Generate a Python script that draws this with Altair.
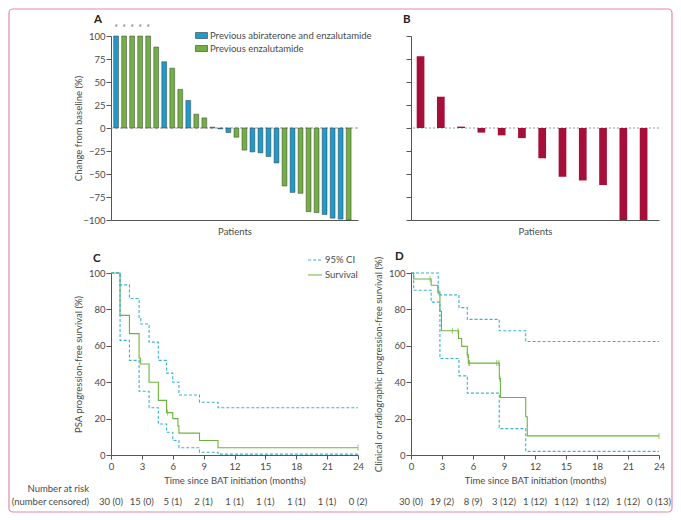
import altair as alt
import pandas as pd

FONT = "Lato"
TXT = "#4a4a4a"
AXC = "#555555"
BLUE = "#1e9bcb"
GREEN = "#72b043"
CRIMSON = "#a50f3a"
CYAN = "#3ab2cf"
KMGREEN = "#6cb33f"
PINK = "#e58aa8"

# ---------------- Panel A : waterfall ----------------
a_values = [100, 100, 100, 100, 100, 88, 72, 65, 42, 30, 15, 11, 1, -1, -5, -10,
            -24, -26, -27, -31, -38, -63, -70, -71, -91, -92, -94, -98, -99, -100]
a_groups = ["AE", "E", "E", "E", "E", "E", "AE", "E", "E", "AE", "E", "E", "E", "AE", "AE", "E",
            "E", "AE", "AE", "AE", "AE", "E", "AE", "E", "E", "E", "AE", "AE", "AE", "E"]
a_stars = ["*", "*", "*", "*", "*"] + [""] * 25
group_names = {"AE": "Previous abiraterone and enzalutamide", "E": "Previous enzalutamide"}
y_ticks_ab = [100, 75, 50, 25, 0, -25, -50, -75, -100]

# ---------------- Panel B : waterfall ----------------
b_values = [78, 34, 1.5, -5, -8, -11, -33, -53, -57, -62, -100, -100]

# ---------------- Panel C : PSA PFS ----------------
c_surv_t = [0, 0.88, 1.79, 2.73, 2.85, 3.7, 4.6, 5.4, 6.0, 6.5, 6.6, 8.6, 10.4, 24]
c_surv_v = [100, 76.7, 66.7, 53.3, 50, 40, 30, 23.3, 20, 16, 12, 8, 4, 4]
c_up_t = [0, 0.88, 1.79, 2.73, 2.9, 3.7, 4.6, 5.4, 6.0, 6.6, 8.6, 10.4, 24]
c_up_v = [100, 93.5, 86, 75, 72, 62, 52, 45, 40, 33, 29, 26, 26]
c_lo_t = [0, 0.88, 1.79, 2.73, 3.7, 4.6, 5.4, 6.0, 6.6, 8.6, 10.4, 24]
c_lo_v = [100, 63, 52, 35, 26, 17, 12.5, 8, 4, 1.5, 0.5, 0.5]
c_cens_t = [5.5, 24]
c_cens_v = [23.3, 4]

# ---------------- Panel D : clinical / radiographic PFS ----------------
d_surv_t = [0, 0.26, 1.95, 2.6, 2.8, 2.95, 4.6, 4.9, 5.45, 5.55, 8.55, 8.65, 11.1, 11.25, 24]
d_surv_v = [100, 96.7, 93.3, 89.6, 79, 68.3, 64, 59.7, 55, 50.5, 42, 31.6, 21, 10.5, 10.5]
d_up_t = [0, 2.63, 4.64, 5.45, 8.54, 11.1, 24]
d_up_v = [100, 88, 81, 74.5, 68.3, 62.4, 62.4]
d_lo_t = [0, 0.26, 1.95, 2.8, 4.64, 5.45, 8.54, 11.1, 24]
d_lo_v = [100, 90.5, 84, 53, 43.5, 34, 14.5, 2, 2]
d_cens_t = [1.85, 2.7, 4.0, 4.55, 5.45, 5.6, 5.65, 8.3, 8.5, 8.6, 24]
d_cens_v = [96.7, 89.6, 68.3, 68.3, 55, 50.5, 50.5, 50.5, 50.5, 42, 10.5]

risk_months = [0, 3, 6, 9, 12, 15, 18, 21, 24]
c_risk = ["30 (0)", "15 (0)", "5 (1)", "2 (1)", "1 (1)", "1 (1)", "1 (1)", "1 (1)", "0 (2)"]
d_risk = ["30 (0)", "19 (2)", "8 (9)", "3 (12)", "1 (12)", "1 (12)", "1 (12)", "1 (12)", "0 (13)"]
km_y_ticks = [0, 20, 40, 60, 80, 100]

W1, W2 = 247, 248
HA, HK = 184, 182


def letter(txt, dx, dy):
    return alt.Chart(pd.DataFrame({"l": [txt]})).mark_text(
        fontWeight="bold", fontSize=11.5, align="left", baseline="alphabetic", color="#222"
    ).encode(text="l:N", x=alt.value(dx), y=alt.value(dy))


def zero_rule(color, dash, yenc):
    return alt.Chart(pd.DataFrame({"change": [0]})).mark_rule(
        color=color, strokeDash=dash, strokeWidth=0.9
    ).encode(y=yenc)


# ---------- Panel A chart ----------
dfA = pd.DataFrame({
    "patient": list(range(1, len(a_values) + 1)),
    "change": a_values,
    "group": [group_names[g] for g in a_groups],
    "star": a_stars,
})
xA = alt.X("patient:O", scale=alt.Scale(paddingInner=0.4, paddingOuter=0.6, align=0.28),
           axis=alt.Axis(title="Patients", labels=False, ticks=False, titleY=11,
                         titleBaseline="middle"))
yA = alt.Y("change:Q", scale=alt.Scale(domain=[-100, 100], nice=False),
           axis=alt.Axis(values=y_ticks_ab, title="Change from baseline (%)", tickSize=5,
                         labelPadding=1, titleX=-33, titleY=HA / 2, titleBaseline="middle",
                         labelOverlap=False, tickCount=9))
bars_a = alt.Chart(dfA).mark_bar(stroke="#3a3a3a", strokeWidth=0.5).encode(
    x=xA, y=yA,
    color=alt.Color("group:N",
                    scale=alt.Scale(domain=list(group_names.values()), range=[BLUE, GREEN]),
                    legend=alt.Legend(title=None, orient="none", legendX=84, legendY=-7,
                                      symbolType="M-1,-0.5H1V0.5H-1Z", symbolSize=144,
                                      symbolStrokeColor="#3a3a3a", symbolStrokeWidth=0.6,
                                      symbolOpacity=1, labelLimit=400,
                                      labelFontSize=9.5, labelColor=TXT, labelFont=FONT,
                                      rowPadding=2, labelOffset=2)),
)
stars = alt.Chart(dfA[dfA["star"] == "*"]).mark_text(
    fontSize=9, color="#777", baseline="alphabetic", dy=-5
).encode(x=xA, y=alt.datum(100), text="star:N")
border = alt.Chart(pd.DataFrame({"b": [0]})).mark_rect(
    filled=False, stroke=PINK, strokeWidth=1.2, cornerRadius=4
).encode(x=alt.value(-102), x2=alt.value(561), y=alt.value(-27), y2=alt.value(476))
panelA = alt.layer(border, zero_rule("#8a8a8a", [3, 2], yA), bars_a, stars,
                   letter("A", -17, -13.5)).properties(width=W1, height=HA)

# ---------- Panel B chart ----------
dfB = pd.DataFrame({"patient": list(range(1, len(b_values) + 1)), "change": b_values})
xB = alt.X("patient:O", scale=alt.Scale(paddingInner=0.62, paddingOuter=0.425, align=0.33),
           axis=alt.Axis(title="Patients", labels=False, ticks=False, titleY=11,
                         titleBaseline="middle"))
yB = alt.Y("change:Q", scale=alt.Scale(domain=[-100, 100], nice=False),
           axis=alt.Axis(values=y_ticks_ab, title=None, labels=False, tickSize=5, tickCount=9))
bars_b = alt.Chart(dfB).mark_bar(color=CRIMSON).encode(x=xB, y=yB)
panelB = alt.layer(zero_rule("#6f9a9c", [2, 2], yB), bars_b,
                   letter("B", -8, -13.5)).properties(width=W2, height=HA)


# ---------- KM panels ----------
def km_frame(st, sv, ut, uv, lt, lv):
    rows = []
    for t, v in zip(st, sv):
        rows.append(("Survival", "surv", t, v))
    for t, v in zip(ut, uv):
        rows.append(("95% CI", "upper", t, v))
    for t, v in zip(lt, lv):
        rows.append(("95% CI", "lower", t, v))
    return pd.DataFrame(rows, columns=["series", "curve", "t", "v"])


def km_layers(df, cens_t, cens_v, risk, ytitle, letter_xy, show_legend):
    xk = alt.X("t:Q", scale=alt.Scale(domain=[0, 24], nice=False),
               axis=alt.Axis(values=risk_months, title="Time since BAT initiation (months)",
                             tickSize=4, labelPadding=2, titleY=25, titleBaseline="middle",
                             labelOverlap=False, labelFlush=False, tickCount=9))
    yk = alt.Y("v:Q", scale=alt.Scale(domain=[0, 100], nice=False),
               axis=alt.Axis(values=km_y_ticks, title=ytitle, tickSize=5,
                             labelPadding=1, titleX=-33, titleY=HK / 2, titleBaseline="middle",
                             labelOverlap=False, tickCount=6))
    if show_legend:
        leg = alt.Legend(title=None, orient="none", legendX=196, legendY=-21,
                         symbolType="stroke", symbolSize=196, symbolStrokeWidth=1.1,
                         labelFontSize=9.5, labelColor=TXT, labelFont=FONT,
                         rowPadding=2, labelOffset=2)
    else:
        leg = None
    dom = ["95% CI", "Survival"]
    lines = alt.Chart(df).mark_line(interpolate="step-after", strokeWidth=1.1).encode(
        x=xk, y=yk,
        color=alt.Color("series:N", scale=alt.Scale(domain=dom, range=[CYAN, KMGREEN]), legend=leg),
        strokeDash=alt.StrokeDash("series:N", scale=alt.Scale(domain=dom, range=[[3, 2], [1, 0]]),
                                  legend=leg),
        detail="curve:N",
    )
    cens = alt.Chart(pd.DataFrame({"t": cens_t, "v": cens_v})).mark_tick(
        orient="vertical", size=6, thickness=1, color=KMGREEN
    ).encode(x=xk, y=yk)
    risk_txt = alt.Chart(pd.DataFrame({"t": risk_months, "lab": risk})).mark_text(
        fontSize=9.5, color=TXT, baseline="middle"
    ).encode(x=xk, y=alt.value(229), text="lab:N")
    return [lines, cens, risk_txt, letter(*letter_xy)]


dfC = km_frame(c_surv_t, c_surv_v, c_up_t, c_up_v, c_lo_t, c_lo_v)
dfD = km_frame(d_surv_t, d_surv_v, d_up_t, d_up_v, d_lo_t, d_lo_v)

row_lab1 = alt.Chart(pd.DataFrame({"l": ["Number at risk"]})).mark_text(
    fontSize=9.5, color=TXT, align="right", baseline="middle"
).encode(text="l:N", x=alt.value(-22), y=alt.value(216))
row_lab2 = alt.Chart(pd.DataFrame({"l": ["(number censored)"]})).mark_text(
    fontSize=9.5, color=TXT, align="right", baseline="middle"
).encode(text="l:N", x=alt.value(-22), y=alt.value(229))

panelC = alt.layer(
    *km_layers(dfC, c_cens_t, c_cens_v, c_risk, "PSA progression-free survival (%)",
               ("C", -18, -11.3), True),
    row_lab1, row_lab2,
).properties(width=W1, height=HK)
panelD = alt.layer(
    *km_layers(dfD, d_cens_t, d_cens_v, d_risk,
               "Clinical or radiographic progression-free survival (%)",
               ("D", -16, -12.7), False)
).properties(width=W2, height=HK)

chart = alt.concat(
    panelA, panelB, panelC, panelD, columns=2, bounds="flush",
    spacing=alt.RowColnumber(row=53, column=53),
).resolve_scale(
    color="independent", strokeDash="independent", x="independent", y="independent"
).properties(padding=0, background="white").configure_view(stroke=None).configure_axis(
    domainColor=AXC, tickColor=AXC, labelColor=TXT, titleColor=TXT, labelFont=FONT,
    titleFont=FONT, labelFontSize=9.5, titleFontSize=9.5, titleFontWeight="normal",
    grid=False, domainWidth=1, tickWidth=1
).configure_text(font=FONT).configure_legend(labelFont=FONT)

chart.save("out.html", embed_options={"renderer": "svg", "actions": False})
